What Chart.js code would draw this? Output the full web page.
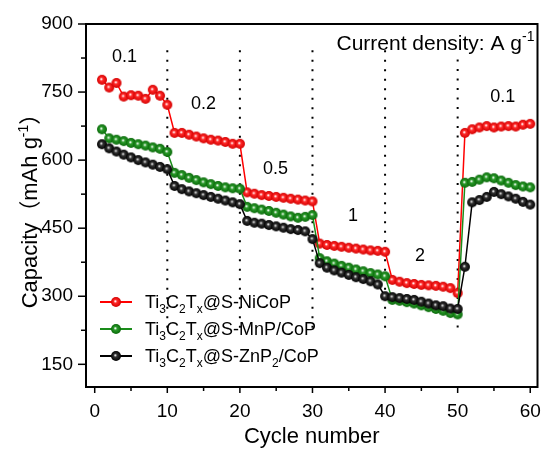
<!DOCTYPE html>
<html>
<head>
<meta charset="utf-8">
<script src="https://cdn.jsdelivr.net/npm/chart.js"></script>
<style>
  html, body { margin: 0; padding: 0; background: #fff; }
  #wrap { width: 544px; height: 450px; }
</style>
</head>
<body>
<div id="wrap"><canvas id="rateChart" width="544" height="450"></canvas></div>
<script>
// ----------------------------
// Data
// ----------------------------
const cycles = [
  1, 2, 3, 4, 5, 6, 7, 8, 9, 10,
  11, 12, 13, 14, 15, 16, 17, 18, 19, 20,
  21, 22, 23, 24, 25, 26, 27, 28, 29, 30,
  31, 32, 33, 34, 35, 36, 37, 38, 39, 40,
  41, 42, 43, 44, 45, 46, 47, 48, 49, 50,
  51, 52, 53, 54, 55, 56, 57, 58, 59, 60
];

const niCoP = [
  777, 760, 770, 740, 743, 742, 735, 755, 742, 722,
  660, 660, 656, 652, 648, 645, 643, 640, 636, 636,
  529, 526, 523, 521, 519, 517, 515, 513, 511, 509,
  416, 413, 411, 409, 407, 405, 403, 401, 400, 398,
  336, 332, 329, 327, 325, 324, 323, 321, 318, 307,
  660, 668, 672, 675, 672, 674, 675, 674, 678, 680
];

const mnpCoP = [
  668, 648, 645, 642, 638, 635, 632, 628, 625, 618,
  572, 567, 561, 556, 551, 547, 543, 540, 538, 537,
  497, 494, 491, 488, 484, 480, 476, 473, 475, 479,
  384, 377, 372, 367, 363, 359, 355, 351, 348, 344,
  292, 290, 287, 284, 280, 276, 272, 268, 263, 260,
  550, 552, 557, 562, 560, 555, 550, 545, 542, 540
];

const znp2CoP = [
  635, 626, 619, 612, 606, 600, 595, 590, 585, 580,
  543, 536, 531, 527, 523, 519, 515, 511, 507, 503,
  466, 462, 460, 457, 454, 451, 448, 446, 443, 426,
  373, 363, 357, 352, 347, 342, 338, 333, 326, 300,
  298, 296, 294, 292, 288, 284, 280, 278, 273, 272,
  365, 507, 512, 519, 530, 525, 520, 515, 508, 502
];

// "_" marks a one-character subscript
const seriesNames = ["Ti_3C_2T_x@S-NiCoP", "Ti_3C_2T_x@S-MnP/CoP", "Ti_3C_2T_x@S-ZnP_2/CoP"];
const seriesColors = ["#ff0000", "#1a8c1a", "#000000"];

const xTicks = [0, 5, 10, 15, 20, 25, 30, 35, 40, 45, 50, 55, 60];
const yTicks = [150, 225, 300, 375, 450, 525, 600, 675, 750, 825, 900];

const rateLabels = ["0.1", "0.2", "0.5", "1", "2", "0.1"];
const rateBreaks = [10, 20, 30, 40, 50];

const FONT = "'Liberation Sans', Arial, 'Noto Sans CJK SC', sans-serif";

// ----------------------------
// Shaded ball markers
// ----------------------------
function makeBall(mid, edge, hi, r) {
  const size = r * 2 + 2;
  const c = document.createElement("canvas");
  c.width = size; c.height = size;
  const g = c.getContext("2d");
  const cx = size / 2;
  const grad = g.createRadialGradient(cx - 0.8, cx - 0.8, 0.3, cx, cx, r);
  grad.addColorStop(0, hi);
  grad.addColorStop(0.3, mid);
  grad.addColorStop(1, edge);
  g.fillStyle = grad;
  g.beginPath();
  g.arc(cx, cx, r, 0, Math.PI * 2);
  g.fill();
  return c;
}

const balls = [
  makeBall("#ff2a2a", "#d40000", "#ffffff", 5),
  makeBall("#2a9a2a", "#0a6a0a", "#ffffff", 5),
  makeBall("#333333", "#000000", "#e8e8e8", 5)
];

function toPoints(values) {
  return values.map((v, i) => ({ x: cycles[i], y: v }));
}

// draw text with "_x" subscripts and "^x" superscripts
function drawRich(ctx, text, x, y, size) {
  const parts = [];
  for (let i = 0; i < text.length; i++) {
    const ch = text[i];
    if ((ch === "_" || ch === "^") && i + 1 < text.length) {
      let j = i + 1, s = "";
      if (text[j] === "{") { j++; while (text[j] !== "}") s += text[j++]; }
      else s = text[j];
      parts.push({ t: s, k: ch });
      i = j;
    } else {
      if (parts.length && parts[parts.length - 1].k === "n") parts[parts.length - 1].t += ch;
      else parts.push({ t: ch, k: "n" });
    }
  }
  const small = Math.round(size * 0.65);
  let w = 0;
  parts.forEach(p => {
    ctx.font = (p.k === "n" ? size : small) + "px " + FONT;
    p.w = ctx.measureText(p.t).width;
    w += p.w;
  });
  return {
    width: w,
    draw(x0) {
      let cx = x0;
      ctx.textBaseline = "alphabetic";
      ctx.textAlign = "left";
      parts.forEach(p => {
        ctx.font = (p.k === "n" ? size : small) + "px " + FONT;
        let dy = 0;
        if (p.k === "_") dy = size * 0.28;
        if (p.k === "^") dy = -size * 0.42;
        ctx.fillText(p.t, cx, y + dy);
        cx += p.w;
      });
    }
  };
}

// ----------------------------
// Frame, ticks, dotted breaks, labels, legend
// ----------------------------
const decorPlugin = {
  id: "decor",
  beforeDatasetsDraw(chart) {
    const { ctx, scales: { x, y } } = chart;
    ctx.save();
    ctx.strokeStyle = "#000";
    ctx.lineWidth = 2;
    ctx.setLineDash([2, 7.5]);
    rateBreaks.forEach((b, i) => {
      const px = x.getPixelForValue(b);
      const top = y.getPixelForValue(i === 4 ? 822 : 842);
      const bot = y.getPixelForValue(220);
      ctx.beginPath();
      ctx.moveTo(px, top);
      ctx.lineTo(px, bot);
      ctx.stroke();
    });
    ctx.restore();
  },
  afterDraw(chart) {
    const { ctx, chartArea: a, scales: { x, y } } = chart;
    ctx.save();
    ctx.fillStyle = "#000";
    ctx.strokeStyle = "#000";

    // frame
    ctx.lineWidth = 2;
    ctx.strokeRect(a.left, a.top, a.right - a.left, a.bottom - a.top);

    // tick marks (outward)
    ctx.lineWidth = 1.5;
    xTicks.forEach(v => {
      const px = x.getPixelForValue(v);
      const len = v % 10 === 0 ? 6 : 4;
      ctx.beginPath();
      ctx.moveTo(px, a.bottom);
      ctx.lineTo(px, a.bottom + len);
      ctx.stroke();
    });
    yTicks.forEach(v => {
      const py = y.getPixelForValue(v);
      const len = v % 150 === 0 ? 8 : 5;
      ctx.beginPath();
      ctx.moveTo(a.left, py);
      ctx.lineTo(a.left - len, py);
      ctx.stroke();
    });

    // current density labels
    const anchors = [[4.1, 828], [15, 723], [24.9, 581], [35.6, 476], [44.8, 389], [56.2, 740]];
    ctx.font = "18px " + FONT;
    ctx.textAlign = "center";
    ctx.textBaseline = "middle";
    rateLabels.forEach((t, i) => {
      ctx.fillText(t, x.getPixelForValue(anchors[i][0]), y.getPixelForValue(anchors[i][1]));
    });

    const cd = drawRich(ctx, "Current density: A g^{-1}", 0, 50, 21);
    cd.draw(a.right - 3 - cd.width);

    // y title
    ctx.save();
    ctx.translate(29, (a.top + a.bottom) / 2);
    ctx.rotate(-Math.PI / 2);
    const yt = drawRich(ctx, "Capacity（mAh g^{-1}）", 0, 8, 22);
    yt.draw(-yt.width / 2);
    ctx.restore();

    // legend
    const rows = [302, 329, 356];
    seriesNames.forEach((n, i) => {
      const ry = rows[i];
      ctx.strokeStyle = seriesColors[i];
      ctx.lineWidth = 2;
      ctx.setLineDash([]);
      ctx.beginPath();
      ctx.moveTo(100, ry);
      ctx.lineTo(132, ry);
      ctx.stroke();
      ctx.drawImage(balls[i], 116 - balls[i].width / 2, ry - balls[i].height / 2);
      ctx.fillStyle = "#000";
      const lt = drawRich(ctx, n, 0, ry + 6, 18);
      lt.draw(145);
    });
    ctx.restore();
  }
};

// ----------------------------
// Chart
// ----------------------------
const makeSet = (i, values, order) => ({
  label: seriesNames[i],
  data: toPoints(values),
  borderColor: seriesColors[i],
  borderWidth: 1.5,
  pointStyle: balls[i],
  pointRadius: 5,
  pointHoverRadius: 5,
  tension: 0,
  order: order
});

new Chart(document.getElementById("rateChart"), {
  type: "line",
  data: {
    datasets: [
      makeSet(0, niCoP, 2),
      makeSet(1, mnpCoP, 1),
      makeSet(2, znp2CoP, 0)
    ]
  },
  options: {
    responsive: false,
    animation: false,
    layout: { padding: { left: 0, right: 4, top: 24, bottom: 0 } },
    plugins: { legend: { display: false }, tooltip: { enabled: false } },
    scales: {
      x: {
        type: "linear",
        min: -1.2,
        max: 61,
        afterBuildTicks: s => { s.ticks = xTicks.map(v => ({ value: v })); },
        afterFit: s => { s.height = 63; },
        grid: { display: false, drawTicks: true, tickLength: 13 },
        border: { display: false },
        ticks: {
          autoSkip: false,
          maxRotation: 0,
          padding: 0,
          color: "#000",
          font: { family: FONT, size: 19 },
          callback: v => (v % 10 === 0 ? v : "")
        },
        title: {
          display: true,
          text: "Cycle number",
          color: "#000",
          padding: { top: 0, bottom: 0 },
          font: { family: FONT, size: 22 }
        }
      },
      y: {
        min: 100,
        max: 900,
        afterBuildTicks: s => { s.ticks = yTicks.map(v => ({ value: v })); },
        afterFit: s => { s.width = 86; },
        grid: { display: false, drawTicks: true, tickLength: 13 },
        border: { display: false },
        ticks: {
          autoSkip: false,
          padding: 0,
          color: "#000",
          font: { family: FONT, size: 19 },
          callback: v => (v % 150 === 0 ? v : "")
        }
      }
    }
  },
  plugins: [decorPlugin]
});
</script>
</body>
</html>
